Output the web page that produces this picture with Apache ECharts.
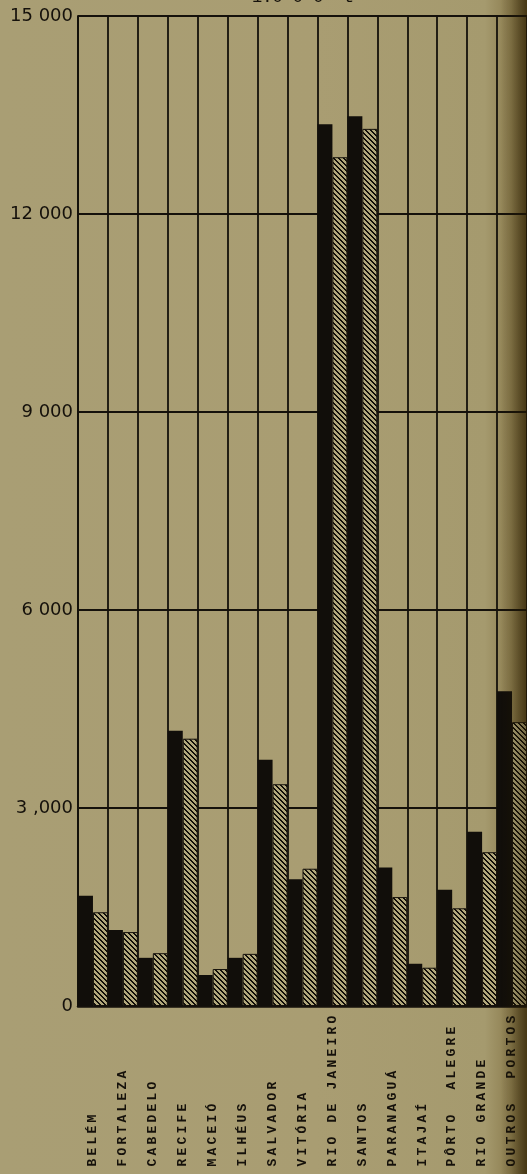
<!DOCTYPE html>
<html>
<head>
<meta charset="utf-8">
<script src="https://cdn.jsdelivr.net/npm/echarts@6/dist/echarts.min.js"></script>
<style>
  html, body { margin: 0; padding: 0; }
  body {
    width: 527px; height: 1174px; overflow: hidden;
    background: linear-gradient(to right, #a99e74 0%, #a99d72 60%, #a59a6e 92%, #8c7d4f 97%, #5e4e27 100%);
    position: relative;
  }
  #chart { width: 527px; height: 1174px; position: absolute; left: 0; top: 0; }
  #shade {
    position: absolute; left: 0; top: 0; width: 527px; height: 1174px; pointer-events: none;
    background: linear-gradient(to right, rgba(40,28,0,0) 0%, rgba(40,28,0,0) 95%, rgba(40,28,0,0.25) 98%, rgba(40,28,0,0.45) 100%);
  }
</style>
</head>
<body>
<div id="chart"></div>
<div id="shade"></div>
<script>
// ---- data (1.000 t) ----
const categories = ['BELÉM', 'FORTALEZA', 'CABEDELO', 'RECIFE', 'MACEIÓ', 'ILHÉUS', 'SALVADOR', 'VITÓRIA',
  'RIO DE JANEIRO', 'SANTOS', 'PARANAGUÁ', 'ITAJAÍ', 'PÔRTO  ALEGRE', 'RIO GRANDE', 'OUTROS  PORTOS'];
const solidValues = [1670, 1150, 730, 4170, 470, 730, 3730, 1920, 13360, 13480, 2100, 640, 1760, 2640, 4770];
const hatchedValues = [1420, 1120, 800, 4050, 560, 790, 3360, 2080, 12860, 13290, 1650, 580, 1480, 2330, 4300];
const yTickLabels = ['0', '3 ,000', '6 000', '9 000', '12 000', '15 000'];
const unitLabel = '1.0 0 0  t';

// hatch pattern (diagonal "\" stripes)
function makeHatch() {
  const s = 10, c = document.createElement('canvas');
  c.width = s; c.height = s;
  const ctx = c.getContext('2d');
  const img = ctx.createImageData(s, s);
  for (let y = 0; y < s; y++) {
    for (let x = 0; x < s; x++) {
      const k = ((x - y) % 5 + 5) % 5;
      const dark = k < 2;
      const i = (y * s + x) * 4;
      if (dark) { img.data[i] = 18; img.data[i + 1] = 15; img.data[i + 2] = 10; }
      else { img.data[i] = 178; img.data[i + 1] = 168; img.data[i + 2] = 124; }
      img.data[i + 3] = 255;
    }
  }
  ctx.putImageData(img, 0, 0);
  return c;
}

const ink = '#15110b';
const chart = echarts.init(document.getElementById('chart'), null, { renderer: 'canvas' });
chart.setOption({
  backgroundColor: 'transparent',
  animation: false,
  grid: { left: 78, top: 16, width: 450, height: 990, containLabel: false },
  graphic: [{
    type: 'text', x: 252, y: -3,
    style: { text: unitLabel, font: '17px "Liberation Mono"', fill: ink, verticalAlign: 'middle', align: 'left' }
  }],
  xAxis: {
    type: 'category',
    data: categories,
    boundaryGap: true,
    axisLine: { show: true, lineStyle: { color: ink, width: 2.5 } },
    axisTick: { show: false },
    splitLine: { show: true, interval: 0, lineStyle: { color: ink, width: 1.8 } },
    axisLabel: {
      interval: 0,
      rotate: 90,
      align: 'left',
      verticalAlign: 'middle',
      margin: 162,
      hideOverlap: false,
      formatter: function (v) {
        return v.split('').map(function (ch) { return '{c|' + (ch === ' ' ? '\u00a0' : ch) + '}'; }).join('');
      },
      rich: {
        c: { width: 11, align: 'center', fontFamily: '"Liberation Mono"', fontSize: 13, fontWeight: 'bold', color: ink }
      }
    }
  },
  yAxis: {
    type: 'value',
    min: 0, max: 15000, interval: 3000,
    axisLine: { show: true, lineStyle: { color: ink, width: 1.8 } },
    axisTick: { show: false },
    splitLine: { show: true, lineStyle: { color: ink, width: 1.8 } },
    axisLabel: {
      margin: 5,
      fontFamily: '"DejaVu Sans"', fontSize: 18, color: ink,
      formatter: function (v) { return yTickLabels[Math.round(v / 3000)]; }
    }
  },
  series: [
    {
      name: 'Série 1', type: 'bar', data: solidValues,
      barGap: '0%', barCategoryGap: '0%',
      itemStyle: { color: '#110e0a' }
    },
    {
      name: 'Série 2', type: 'bar', data: hatchedValues,
      barGap: '0%', barCategoryGap: '0%',
      itemStyle: { color: { image: makeHatch(), repeat: 'repeat' }, borderColor: ink, borderWidth: 1 }
    }
  ]
});
</script>
</body>
</html>
